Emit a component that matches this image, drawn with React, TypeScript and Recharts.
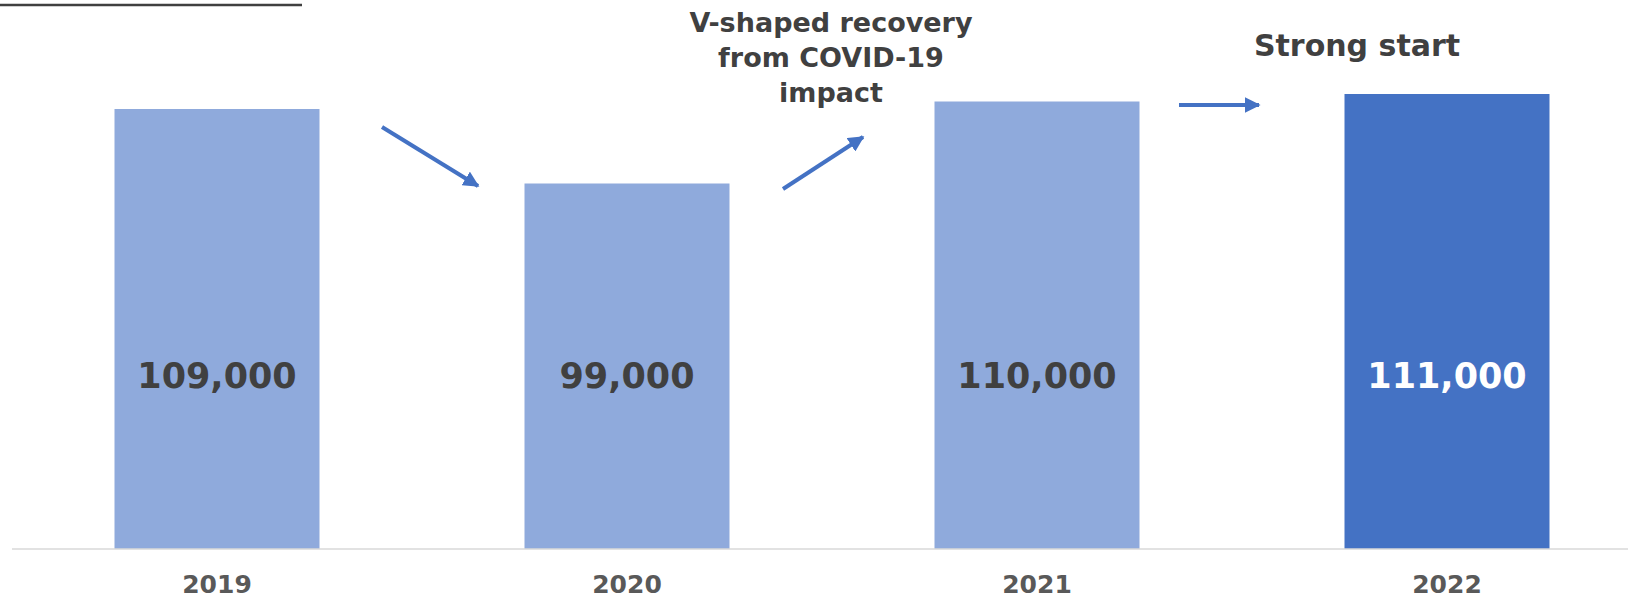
import { BarChart, Bar, XAxis, YAxis, Cell, LabelList } from "recharts";

const years = ["2019", "2020", "2021", "2022"];
const units = [109000, 99000, 110000, 111000];
const highlight = [false, false, false, true];

const data = years.map((year, i) => ({ year, units: units[i], highlight: highlight[i] }));

const FONT = "'DejaVu Sans', Verdana, sans-serif";
const ARROW = "#4472C4";

function YearTick(props: any) {
  const { x, y, payload } = props;
  return (
    <text
      x={x}
      y={y + 44}
      textAnchor="middle"
      fill="#595959"
      fontFamily={FONT}
      fontWeight="bold"
      fontSize={25}
    >
      {payload.value}
    </text>
  );
}

function ValueLabel(props: any) {
  const { x, y, width, height, value, index } = props;
  return (
    <text
      x={x + width / 2}
      y={y + height - 161}
      textAnchor="middle"
      fill={highlight[index] ? "#ffffff" : "#404040"}
      fontFamily={FONT}
      fontWeight="bold"
      fontSize={35}
    >
      {Number(value).toLocaleString("en-US")}
    </text>
  );
}

export default function App() {
  return (
    <div
      style={{
        position: "absolute",
        left: 0,
        top: 0,
        width: 1628,
        height: 599,
        overflow: "hidden",
        background: "#fff",
      }}
    >
      <BarChart
        width={1660}
        height={599}
        data={data}
        margin={{ top: 27, right: 8, left: 12, bottom: 0 }}
        barCategoryGap="25%"
      >
        <XAxis
          dataKey="year"
          height={50}
          tickSize={0}
          tickMargin={0}
          tickLine={false}
          axisLine={{ stroke: "#d9d9d9", strokeWidth: 1.5 }}
          tick={<YearTick />}
        />
        <YAxis hide domain={[50000, 120000]} width={0} />
        <Bar dataKey="units" isAnimationActive={false}>
          {data.map((d) => (
            <Cell key={d.year} fill={d.highlight ? "#4472C4" : "#8FAADC"} />
          ))}
          <LabelList dataKey="units" content={<ValueLabel />} />
        </Bar>
      </BarChart>

      <svg
        width={1628}
        height={599}
        style={{ position: "absolute", left: 0, top: 0, pointerEvents: "none" }}
      >
        <defs>
          <marker
            id="head"
            viewBox="0 0 10 10"
            refX="9"
            refY="5"
            markerWidth="4"
            markerHeight="4"
            markerUnits="strokeWidth"
            orient="auto"
          >
            <path d="M0,0 L10,5 L0,10 z" fill={ARROW} />
          </marker>
        </defs>
        <line x1={0} y1={5} x2={302} y2={5} stroke="#404040" strokeWidth={2.5} />
        <line x1={382} y1={127} x2={478} y2={186} stroke={ARROW} strokeWidth={4} markerEnd="url(#head)" />
        <line x1={783} y1={189} x2={863} y2={137} stroke={ARROW} strokeWidth={4} markerEnd="url(#head)" />
        <line x1={1179} y1={105} x2={1259} y2={105} stroke={ARROW} strokeWidth={4} markerEnd="url(#head)" />
        <text
          x={831}
          textAnchor="middle"
          fill="#404040"
          fontFamily={FONT}
          fontWeight="bold"
          fontSize={27}
        >
          <tspan x={831} y={32}>V-shaped recovery</tspan>
          <tspan x={831} y={67}>from COVID-19</tspan>
          <tspan x={831} y={102}>impact</tspan>
        </text>
        <text
          x={1357}
          y={56}
          textAnchor="middle"
          fill="#404040"
          fontFamily={FONT}
          fontWeight="bold"
          fontSize={30}
        >
          Strong start
        </text>
      </svg>
    </div>
  );
}
